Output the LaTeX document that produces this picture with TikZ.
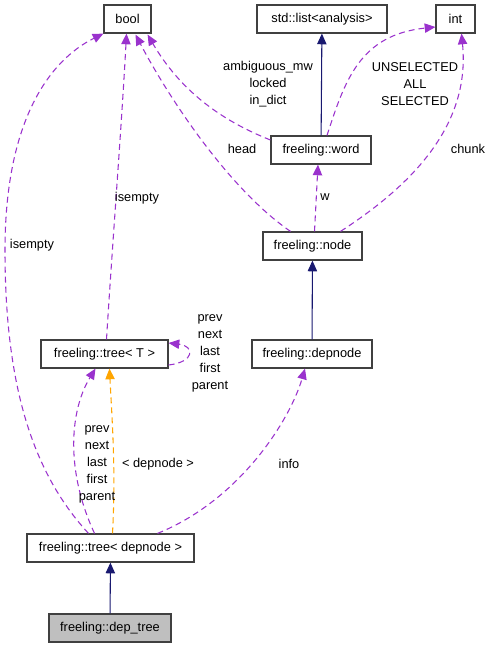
\documentclass[tikz,border=0pt]{standalone}
\usepackage{fontspec}
\setmainfont{Liberation Sans}
\usetikzlibrary{arrows.meta,calc}

\definecolor{dxpurple}{HTML}{9A32CD}
\definecolor{dxnavy}{HTML}{191970}
\definecolor{dxorange}{HTML}{FFA500}

\begin{document}
\begin{tikzpicture}[x = 0.75pt, y = -0.75pt,
    every node/.style = {font = \fontsize{9.6}{12.75}\selectfont},
    cls/.style = {draw = black!75, line width = 0.9pt, minimum height = 21pt, inner sep = 2pt},
    lbl/.style = {align = center, inner sep = 0pt},
    use/.style = {dxpurple, line width = 0.8pt, dash pattern = on 4.5pt off 3pt, -{Triangle[length = 8pt, width = 7pt]}},
    inherit/.style = {dxnavy, line width = 0.8pt, -{Triangle[length = 8pt, width = 7pt]}},
    tmpl/.style = {dxorange, line width = 0.8pt, dash pattern = on 4.5pt off 3pt, -{Triangle[length = 8pt, width = 7pt]}}]
    \useasboundingbox (0,0) rectangle (493,648);

    % classes
    \node[cls, minimum width = 35.25pt] (bool) at (127.5,19) {bool};
    \node[cls, minimum width = 97.5pt] (list) at (322,19) {std::list<analysis>};
    \node[cls, minimum width = 29.25pt] (int) at (455.5,19) {int};
    \node[cls, minimum width = 75pt] (word) at (321,150) {freeling::word};
    \node[cls, minimum width = 74.25pt] (fnode) at (312.5,246) {freeling::node};
    \node[cls, minimum width = 95.25pt] (treeT) at (104.5,354) {freeling::tree< T >};
    \node[cls, minimum width = 90pt] (depnode) at (312,354) {freeling::depnode};
    \node[cls, minimum width = 125.25pt] (treedep) at (110.5,548) {freeling::tree< depnode >};
    \node[cls, minimum width = 91.5pt, fill = black!25] (deptree) at (110,628) {freeling::dep\_tree};

    % inheritance
    \draw[inherit] (deptree) -- (treedep);
    \draw[inherit] (depnode) -- (fnode);
    \draw[inherit] (word) -- (list);

    % members
    \draw[use] ($(treedep.north)+(-22,0)$) .. controls (30,470) and (5,380) .. (5,250)
        .. controls (5,120) and (50,60) .. (bool.south west);
    \draw[use] ($(treeT.north)+(2,0)$) .. controls (112,250) and (122,120) .. ($(bool.south)+(-1,0)$);
    \draw[use] ($(fnode.north)+(-22,0)$) .. controls (230,190) and (170,100) .. ($(bool.south)+(8,1)$);
    \draw[use] ($(word.west)+(0,-10)$) .. controls (220,120) and (180,90) .. ($(bool.south east)+(-4,1)$);
    \draw[use] ($(word.north)+(6,0)$) .. controls (345,80) and (360,35) .. ($(int.west)+(0,8)$);
    \draw[use] ($(fnode.north)+(28,0)$) .. controls (420,180) and (470,120) .. ($(int.south)+(6,0)$);
    \draw[use] ($(fnode.north)+(2,0)$) -- ($(word.south)+(-3,0)$);
    \draw[use] ($(treeT.east)+(0,11)$) .. controls (195,362) and (195,346) .. ($(treeT.east)+(0,-11)$);
    \draw[use] ($(treedep.north)+(-16,0)$) .. controls (65,470) and (70,410) .. ($(treeT.south)+(-9,0)$);
    \draw[tmpl] ($(treedep.north)+(2,0)$) .. controls (116,470) and (112,420) .. ($(treeT.south)+(5,0)$);
    \draw[use] ($(treedep.north)+(47,0)$) .. controls (240,500) and (290,420) .. ($(depnode.south)+(-7,0)$);

    % labels
    \node[lbl] (lisempty1) at (32,245) {isempty};
    \node[lbl] (lisempty2) at (137,198) {isempty};
    \node[lbl] (lhead) at (242,149) {head};
    \node[lbl] (lflags) at (268,84) {ambiguous\_mw\\locked\\in\_dict};
    \node[lbl] (lsel) at (415,84) {UNSELECTED\\ALL\\SELECTED};
    \node[lbl] (lchunk) at (468,149) {chunk};
    \node[lbl] (lw) at (325,197) {w};
    \node[lbl] (lloop) at (210,353) {prev\\next\\last\\first\\parent};
    \node[lbl] (llinks) at (97,464) {prev\\next\\last\\first\\parent};
    \node[lbl] (ltmpl) at (158,464) {< depnode >};
    \node[lbl] (linfo) at (289,464) {info};
\end{tikzpicture}
\end{document}
